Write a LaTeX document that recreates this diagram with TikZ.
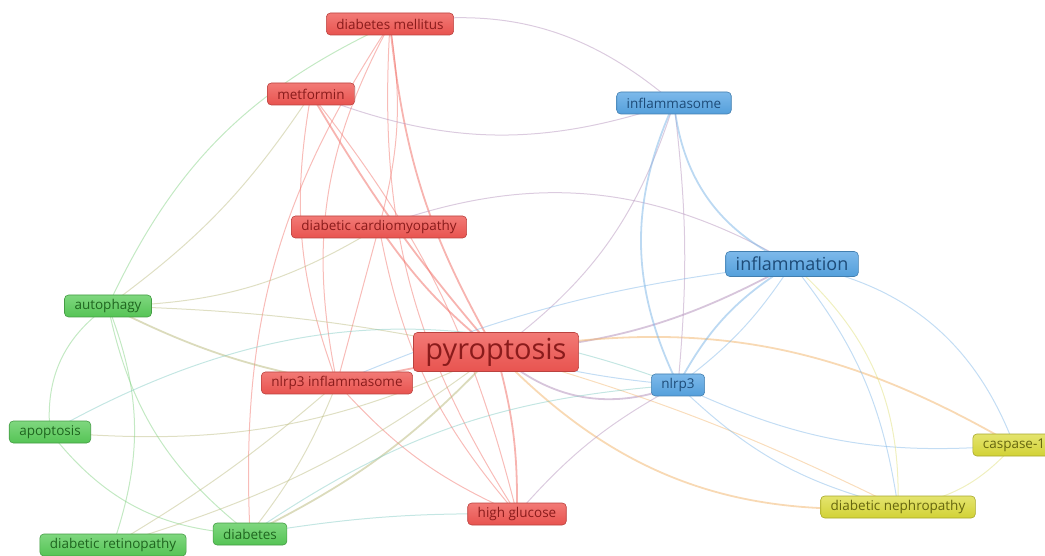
\documentclass[tikz,border=0pt]{standalone}
\usepackage{fontspec}
\setmainfont{Open Sans}
\usetikzlibrary{backgrounds}

\definecolor{redfill}{HTML}{E8534F}
\definecolor{redtop}{HTML}{F27A76}
\definecolor{redtext}{HTML}{8A1B1B}
\definecolor{redline}{HTML}{F06A62}
\definecolor{bluefill}{HTML}{549FDB}
\definecolor{bluetop}{HTML}{7DB9EA}
\definecolor{bluetext}{HTML}{1D4B78}
\definecolor{blueline}{HTML}{7AB4E6}
\definecolor{greenfill}{HTML}{55C455}
\definecolor{greentop}{HTML}{7FD77F}
\definecolor{greentext}{HTML}{1F651F}
\definecolor{greenline}{HTML}{7ACF7A}
\definecolor{yelfill}{HTML}{D2D236}
\definecolor{yeltop}{HTML}{E4E46E}
\definecolor{yeltext}{HTML}{66660F}
\definecolor{yelline}{HTML}{DDDD70}
\definecolor{orangeline}{HTML}{F2B46A}
\definecolor{purpleline}{HTML}{B08CB8}
\definecolor{tealline}{HTML}{7CC8C0}
\definecolor{brownline}{HTML}{B8B87A}

\begin{document}
\begin{tikzpicture}[x=1pt, y=1pt,
  kw/.style={rounded corners=4pt, inner xsep=10pt, inner ysep=0pt,
             minimum height=22pt, font=\fontsize{13.5}{13.5}\selectfont, line width=0.6pt},
  kwred/.style={kw, draw=redfill!80!black, top color=redtop, bottom color=redfill, text=redtext},
  kwblue/.style={kw, draw=bluefill!80!black, top color=bluetop, bottom color=bluefill, text=bluetext},
  kwgreen/.style={kw, draw=greenfill!80!black, top color=greentop, bottom color=greenfill, text=greentext},
  kwyel/.style={kw, draw=yelfill!80!black, top color=yeltop, bottom color=yelfill, text=yeltext},
  link/.style={line width=1pt, opacity=0.45},
  strong/.style={line width=1.8pt, opacity=0.5}
]
\useasboundingbox (0,0) rectangle (1045,555);

% keywords
\node[kwred] (dm) at (390,531) {diabetes mellitus};
\node[kwred] (metformin) at (311,461) {metformin};
\node[kwblue] (inflammasome) at (674,452) {inflammasome};
\node[kwred] (dcm) at (379,328) {diabetic cardiomyopathy};
\node[kwblue, minimum height=25pt, font=\fontsize{18}{18}\selectfont] (inflammation) at (792,291) {inflammation};
\node[kwgreen] (autophagy) at (108,249) {autophagy};
\node[kwred, minimum height=39pt, inner xsep=12pt, font=\fontsize{29}{29}\selectfont] (pyroptosis) at (496,203) {pyroptosis};
\node[kwred] (nlrpinfl) at (337,172) {nlrp3 inflammasome};
\node[kwblue] (nlrp) at (678,170) {nlrp3};
\node[kwgreen] (apoptosis) at (50,123) {apoptosis};
\node[kwyel] (caspase) at (1014,110) {caspase-1};
\node[kwyel] (nephro) at (898,48) {diabetic nephropathy};
\node[kwred] (glucose) at (517,41) {high glucose};
\node[kwgreen] (diabetes) at (250,21) {diabetes};
\node[kwgreen] (retino) at (113,10) {diabetic retinopathy};

% links
\begin{scope}[on background layer]
  % red cluster
  \draw[strong, redline] (dm.center) to[bend right=12] (pyroptosis.center);
  \draw[link, redline] (dm.center) to[bend right=18] (glucose.center);
  \draw[link, redline] (dm.center) to[bend right=20] (nlrpinfl.center);
  \draw[link, redline] (dm.center) to[bend left=12] (dcm.center);
  \draw[link, redline] (dm.center) to[bend right=18] (diabetes.center);
  \draw[link, purpleline] (dm.center) to[bend left=25] (inflammasome.center);
  \draw[strong, redline] (metformin.center) to[bend right=5] (pyroptosis.center);
  \draw[link, redline] (metformin.center) to[bend right=15] (nlrpinfl.center);
  \draw[link, redline] (metformin.center) to[bend left=12] (glucose.center);
  \draw[link, purpleline] (metformin.center) to[bend right=20] (inflammasome.center);
  \draw[strong, redline] (dcm.center) to[bend right=8] (pyroptosis.center);
  \draw[link, redline] (dcm.center) to[bend right=15] (glucose.center);
  \draw[link, redline] (dcm.center) to (nlrpinfl.center);
  \draw[link, purpleline] (dcm.center) to[bend left=25] (inflammation.center);
  \draw[strong, redline] (pyroptosis.center) to (nlrpinfl.center);
  \draw[strong, redline] (pyroptosis.center) to[bend left=8] (glucose.center);
  \draw[link, redline] (nlrpinfl.center) to[bend right=12] (glucose.center);
  % pyroptosis to other clusters
  \draw[strong, purpleline] (pyroptosis.center) to[bend right=32] (nlrp.center);
  \draw[link, blueline] (pyroptosis.center) to[bend right=5] (nlrp.center);
  \draw[strong, purpleline] (pyroptosis.center) to[bend right=12] (inflammation.center);
  \draw[link, purpleline] (inflammasome.center) to[bend left=18] (pyroptosis.center);
  \draw[strong, orangeline] (pyroptosis.center) to[bend left=20] (caspase.center);
  \draw[strong, orangeline] (pyroptosis.center) to[bend right=25] (nephro.center);
  \draw[link, orangeline] (pyroptosis.center) to[bend left=5] (nephro.center);
  \draw[link, brownline] (autophagy.center) to[bend left=5] (pyroptosis.center);
  \draw[link, brownline] (apoptosis.center) to[bend right=15] (pyroptosis.center);
  \draw[strong, brownline] (diabetes.center) to[bend right=10] (pyroptosis.center);
  \draw[link, brownline] (retino.center) to[bend right=10] (pyroptosis.center);
  % blue cluster
  \draw[strong, blueline] (inflammasome.center) to[bend right=25] (nlrp.center);
  \draw[link, purpleline] (inflammasome.center) to[bend left=6] (nlrp.center);
  \draw[strong, blueline] (inflammasome.center) to[bend right=30] (inflammation.center);
  \draw[strong, blueline] (inflammation.center) to[bend right=15] (nlrp.center);
  \draw[link, blueline] (inflammation.center) to[bend left=10] (nlrp.center);
  \draw[link, blueline] (inflammation.center) to[bend right=8] (nlrpinfl.center);
  \draw[link, blueline] (inflammation.center) to[bend left=15] (nephro.center);
  \draw[link, blueline] (inflammation.center) to[bend left=30] (caspase.center);
  \draw[link, blueline] (nlrp.center) to[bend right=15] (caspase.center);
  \draw[link, blueline] (nlrp.center) to[bend right=15] (nephro.center);
  \draw[link, purpleline] (glucose.center) to[bend left=10] (nlrp.center);
  % yellow cluster
  \draw[link, yelline] (caspase.center) to[bend left=20] (nephro.center);
  \draw[link, yelline] (nephro.center) to[bend right=25] (inflammation.center);
  % green cluster
  \draw[strong, brownline] (autophagy.center) to[bend right=8] (nlrpinfl.center);
  \draw[link, greenline] (autophagy.center) to[bend left=20] (dm.center);
  \draw[link, brownline] (autophagy.center) to[bend right=10] (metformin.center);
  \draw[link, brownline] (autophagy.center) to[bend right=15] (dcm.center);
  \draw[link, greenline] (autophagy.center) to[bend right=30] (apoptosis.center);
  \draw[link, greenline] (autophagy.center) to[bend right=20] (diabetes.center);
  \draw[link, greenline] (autophagy.center) to[bend left=20] (retino.center);
  \draw[link, greenline] (apoptosis.center) to[bend right=25] (diabetes.center);
  \draw[link, tealline] (apoptosis.center) to[bend left=25] (nlrp.center);
  \draw[link, brownline] (diabetes.center) to[bend right=8] (nlrpinfl.center);
  \draw[link, tealline] (diabetes.center) to[bend left=15] (nlrp.center);
  \draw[link, tealline] (diabetes.center) to[bend left=5] (glucose.center);
  \draw[link, brownline] (retino.center) to[bend right=5] (nlrpinfl.center);
\end{scope}
\end{tikzpicture}
\end{document}
